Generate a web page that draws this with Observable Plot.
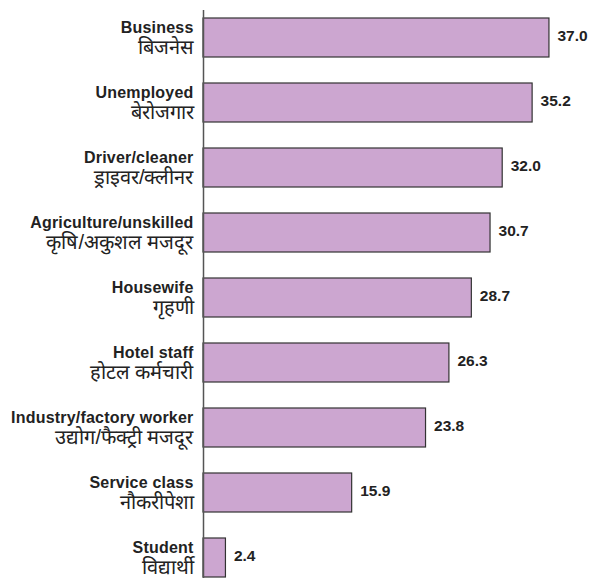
<!DOCTYPE html>
<html>
<head>
<meta charset="utf-8">
<script src="https://cdn.jsdelivr.net/npm/d3@7"></script>
<script src="https://cdn.jsdelivr.net/npm/@observablehq/plot@0.6"></script>
<style>
  html, body { margin: 0; padding: 0; background: #fff; }
  #chart svg { display: block; }
  #chart g.en text { letter-spacing: 0.2px; font-weight: bold; }
</style>
</head>
<body>
<div id="chart"></div>
<script>
const englishLabels = ["Business", "Unemployed", "Driver/cleaner", "Agriculture/unskilled", "Housewife", "Hotel staff", "Industry/factory worker", "Service class", "Student"];
const hindiLabels = ["बिजनेस", "बेरोजगार", "ड्राइवर/क्लीनर", "कृषि/अकुशल मजदूर", "गृहणी", "होटल कर्मचारी", "उद्योग/फैक्ट्री मजदूर", "नौकरीपेशा", "विद्यार्थी"];
const values = [37.0, 35.2, 32.0, 30.7, 28.7, 26.3, 23.8, 15.9, 2.4];

const data = englishLabels.map((en, i) => ({en, hi: hindiLabels[i], value: values[i]}));

const font = "'Liberation Sans', Arial, Helvetica, sans-serif";

const chart = Plot.plot({
  width: 593,
  height: 581,
  marginLeft: 203,
  marginRight: 16,
  marginTop: 10,
  marginBottom: 3,
  style: {fontFamily: font, background: "#fff"},
  x: {domain: [0, 40], axis: null},
  y: {domain: englishLabels, axis: null, paddingInner: 0.4, paddingOuter: 0.069, align: 0.89},
  marks: [
    Plot.barX(data, {y: "en", x: "value", fill: "#cca6d0", stroke: "#333", strokeWidth: 1.2}),
    Plot.ruleX([0], {stroke: "#555", strokeWidth: 1.5}),
    Plot.text(data, {y: "en", x: 0, text: "en", textAnchor: "end", dx: -10, dy: -10, fontWeight: "bold", fontSize: 16, fill: "#222", className: "en"}),
    Plot.text(data, {y: "en", x: 0, text: "hi", textAnchor: "end", dx: -10, dy: 10, fontSize: 20, fontWeight: 500, fill: "#222"}),
    Plot.text(data, {y: "en", x: "value", text: d => d.value.toFixed(1), textAnchor: "start", dx: 8, dy: -2, fontWeight: "bold", fontSize: 15.5, fill: "#222"})
  ]
});
document.getElementById("chart").appendChild(chart);
</script>
</body>
</html>
